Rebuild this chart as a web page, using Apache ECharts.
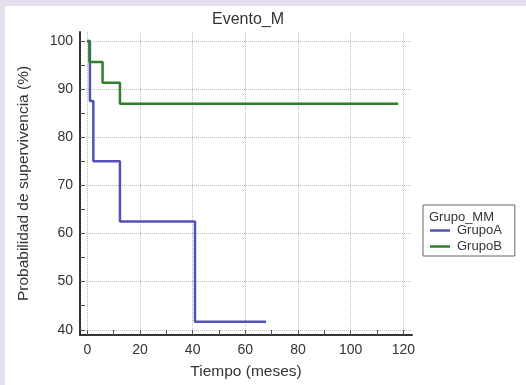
<!DOCTYPE html>
<html>
<head>
<meta charset="utf-8">
<script src="https://cdn.jsdelivr.net/npm/echarts@6/dist/echarts.min.js"></script>
<style>
  html, body { margin: 0; padding: 0; background: #e6dfee; }
  #chart { position: absolute; left: 5px; top: 6px; width: 521px; height: 379px; background: #fff; }
</style>
</head>
<body>
<div id="chart"></div>
<script>
// Kaplan-Meier steps: [time (months), survival %]
const grupoA = [[0, 100], [1, 87.5], [2.3, 75], [12.4, 62.5], [40.9, 41.67], [67.9, 41.67]];
const grupoB = [[0, 100], [0.8, 95.65], [5.8, 91.3], [12.4, 86.96], [118, 86.96]];

const xLabels = [0, 20, 40, 60, 80, 100, 120];
const xTicks = [0, 10, 20, 30, 40, 50, 60, 70, 80, 90, 100, 110, 120];
const yLabels = [40, 50, 60, 70, 80, 90, 100];
const yTicks = [40, 45, 50, 55, 60, 65, 70, 75, 80, 85, 90, 95, 100];

const chart = echarts.init(document.getElementById('chart'));

const font = 'Liberation Sans, Arial, sans-serif';
const axisColor = '#333';
const gridLine = { show: true, lineStyle: { color: '#bdbdbd', type: 'dotted', width: 1 } };

const option = {
    animation: false,
    textStyle: { fontFamily: font },
    title: [
        {
            text: 'Evento_M',
            left: 207, top: 6, padding: 0,
            textStyle: { fontSize: 16, fontWeight: 'normal', color: '#333', fontFamily: font }
        },
        {
            text: 'Grupo_MM',
            left: 424, top: 205, padding: 0,
            textStyle: { fontSize: 13, fontWeight: 'normal', color: '#333', fontFamily: font }
        }
    ],
    legend: {
        orient: 'vertical',
        left: 418, top: 199,
        padding: [19, 13, 3, 7],
        itemGap: 3,
        itemWidth: 20, itemHeight: 2.5,
        icon: 'rect',
        backgroundColor: '#fff',
        borderColor: '#666', borderWidth: 1,
        textStyle: { fontSize: 13, color: '#333', fontFamily: font, padding: [0, 0, 0, 2] },
        data: ['GrupoA', 'GrupoB']
    },
    grid: { left: 75, top: 26, right: 114, bottom: 48 },
    xAxis: [
        {
            type: 'value', min: -2.77, max: 123.3, position: 'bottom',
            name: 'Tiempo (meses)', nameLocation: 'middle', nameGap: 29,
            nameTextStyle: { fontSize: 15.5, color: '#333', fontFamily: font },
            axisLine: { show: true, onZero: false, lineStyle: { color: axisColor, width: 2 } },
            axisTick: { show: true, inside: true, length: 5, customValues: xTicks, lineStyle: { color: '#555' } },
            axisLabel: { customValues: xLabels, fontSize: 14, color: '#333', margin: 8, fontFamily: font },
            splitLine: { show: false }
        },
        {
            type: 'value', min: -2.77, max: 123.3, position: 'bottom',
            axisLine: { show: false, onZero: false },
            axisTick: { show: false, customValues: xLabels },
            axisLabel: { show: false },
            splitLine: gridLine
        }
    ],
    yAxis: [
        {
            type: 'value', min: 38.91, max: 101.86, position: 'left',
            name: 'Probabilidad de supervivencia (%)', nameLocation: 'middle', nameGap: 48,
            nameTextStyle: { fontSize: 15.5, color: '#333', fontFamily: font },
            axisLine: { show: true, onZero: false, lineStyle: { color: axisColor, width: 2 } },
            axisTick: { show: true, inside: true, length: 5, customValues: yTicks, lineStyle: { color: '#555' } },
            axisLabel: { customValues: yLabels, fontSize: 14, color: '#333', margin: 7, fontFamily: font },
            splitLine: { show: false }
        },
        {
            type: 'value', min: 38.91, max: 101.86, position: 'left',
            axisLine: { show: false, onZero: false },
            axisTick: { show: false, customValues: yLabels },
            axisLabel: { show: false },
            splitLine: gridLine
        }
    ],
    series: [
        {
            name: 'GrupoA', type: 'line', step: 'end',
            data: grupoA, showSymbol: false, symbol: 'none',
            color: '#5252b6',
            lineStyle: { width: 2.5, color: '#5252b6' },
            z: 3
        },
        {
            name: 'GrupoB', type: 'line', step: 'end',
            data: grupoB, showSymbol: false, symbol: 'none',
            color: '#2f7f2f',
            lineStyle: { width: 2.5, color: '#2f7f2f' },
            z: 4
        }
    ]
};

chart.setOption(option);
</script>
</body>
</html>
